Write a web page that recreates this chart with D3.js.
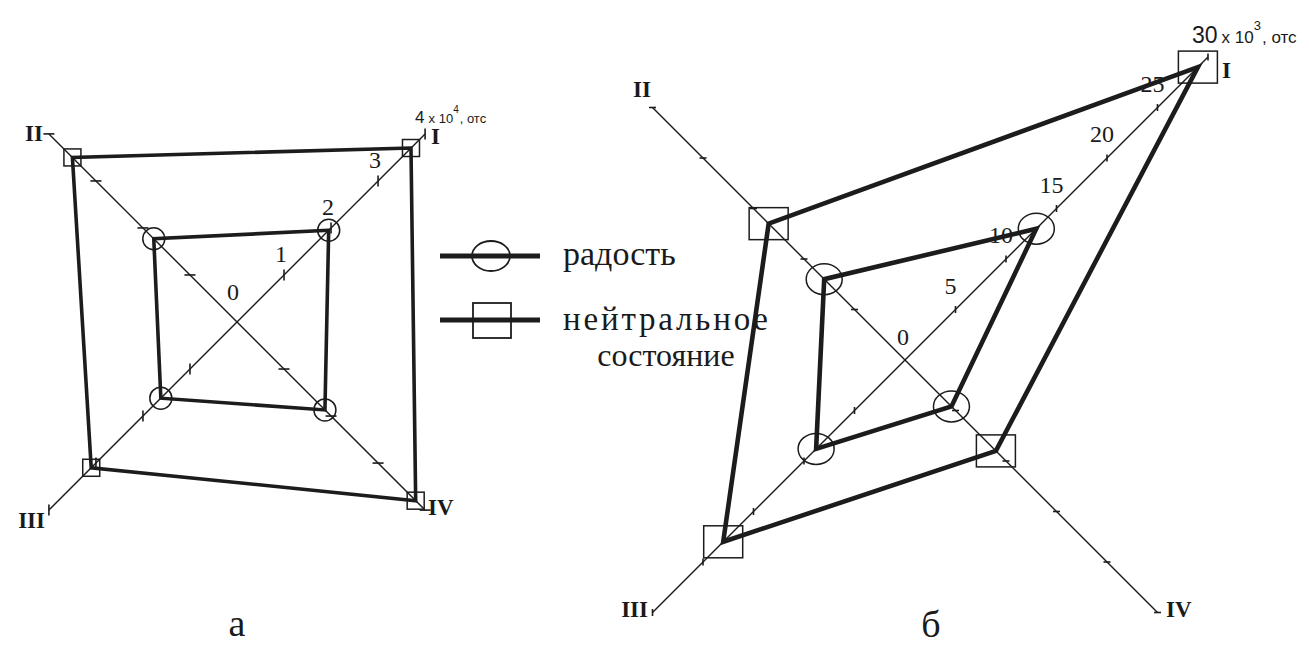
<!DOCTYPE html>
<html>
<head>
<meta charset="utf-8">
<script src="https://cdn.jsdelivr.net/npm/d3@7"></script>
<style>
  body { margin: 0; background: #fff; }
  text { fill: #1a1a1a; }
</style>
</head>
<body>
<svg id="chart" width="1309" height="652"></svg>
<script>
// Axis names (same for both diagrams)
const axisNames = ["I", "II", "III", "IV"];

// Diagram "а": values in units of 10^4 counts
const joyA = [1.95, 1.77, 1.62, 1.87];
const neutralA = [3.7, 3.5, 3.1, 3.8];
const ticksA = [0, 1, 2, 3, 4];
const axisMaxA = [4, 4, 4, 4];

// Diagram "б": values in units of 10^3 counts
const joyB = [13, 8, 8.8, 4.6];
const neutralB = [29, 13.5, 18, 9];
const ticksB = [0, 5, 10, 15, 20, 25, 30];
const axisMaxB = [30, 25, 25, 25];

// Legend entries
const seriesNames = ["радость", "нейтральное состояние"];
const panelNames = ["а", "б"];

const svg = d3.select("#chart");
const ink = "#1c1c1c";

// Axis directions, clockwise from "up": I upper-right, II upper-left, III lower-left, IV lower-right
const axisAngles = [45, 315, 225, 135].map(d => d * Math.PI / 180);
const pt = (a, r) => [r * Math.sin(a), -r * Math.cos(a)];

function drawPanel(cfg) {
  const g = svg.append("g").attr("transform", `translate(${cfg.cx},${cfg.cy})`);
  const r = d3.scaleLinear().domain([0, cfg.unitMax]).range([0, cfg.radius]);

  // axes
  axisNames.forEach((name, i) => {
    const a = axisAngles[i];
    const end = pt(a, r(cfg.axisMax[i]));
    g.append("line")
      .attr("x1", 0).attr("y1", 0).attr("x2", end[0]).attr("y2", end[1])
      .attr("stroke", ink).attr("stroke-width", 1.4);
    // tick marks: vertical on I/III, horizontal on II/IV
    const vertical = (i === 0 || i === 2);
    const tv = cfg.ticks.filter(t => t > 0 && t <= cfg.axisMax[i]);
    g.selectAll(null).data(tv).join("line")
      .attr("x1", t => pt(a, r(t))[0] - (vertical ? 0 : cfg.tickLen / 2))
      .attr("x2", t => pt(a, r(t))[0] + (vertical ? 0 : cfg.tickLen / 2))
      .attr("y1", t => pt(a, r(t))[1] - (vertical ? cfg.tickLen / 2 : 0))
      .attr("y2", t => pt(a, r(t))[1] + (vertical ? cfg.tickLen / 2 : 0))
      .attr("stroke", ink).attr("stroke-width", 1.6);
  });

  // tick labels along axis I (last one carries the unit)
  const lastTick = cfg.ticks[cfg.ticks.length - 1];
  g.selectAll(null).data(cfg.ticks.filter(t => t !== lastTick)).join("text")
    .attr("x", t => pt(axisAngles[0], r(t))[0] + (t === 0 ? cfg.zeroOff[0] : cfg.labelOff[0]))
    .attr("y", t => pt(axisAngles[0], r(t))[1] + (t === 0 ? cfg.zeroOff[1] : cfg.labelOff[1]))
    .attr("text-anchor", "middle")
    .attr("font-family", "Liberation Serif, serif")
    .attr("font-size", 24)
    .text(d => d);

  const endPt = pt(axisAngles[0], r(lastTick));
  const unit = g.append("text")
    .attr("x", endPt[0] + cfg.unitOff[0]).attr("y", endPt[1] + cfg.unitOff[1])
    .attr("font-family", "Liberation Sans, Arial, sans-serif");
  unit.append("tspan").attr("font-size", cfg.unitFont[0]).text(lastTick);
  unit.append("tspan").attr("font-size", cfg.unitFont[1]).attr("dx", 4).text("x 10");
  unit.append("tspan").attr("font-size", cfg.unitFont[2]).attr("dy", -cfg.unitFont[1] * 0.75).text(cfg.exponent);
  unit.append("tspan").attr("font-size", cfg.unitFont[1]).attr("dx", 1)
    .attr("dy", cfg.unitFont[1] * 0.75).text(", отс");

  // data polygons
  const radial = d3.lineRadial()
    .angle((d, i) => axisAngles[i])
    .radius(d => r(d))
    .curve(d3.curveLinearClosed);
  [cfg.neutral, cfg.joy].forEach(vals => {
    g.append("path").attr("d", radial(vals))
      .attr("fill", "none").attr("stroke", ink)
      .attr("stroke-width", cfg.lineW).attr("stroke-linejoin", "miter");
  });

  // markers
  g.selectAll(null).data(cfg.joy).join("ellipse")
    .attr("cx", (d, i) => pt(axisAngles[i], r(d))[0])
    .attr("cy", (d, i) => pt(axisAngles[i], r(d))[1])
    .attr("rx", cfg.circle[0]).attr("ry", cfg.circle[1])
    .attr("fill", "none").attr("stroke", ink).attr("stroke-width", 1.5);
  g.selectAll(null).data(cfg.neutral).join("rect")
    .attr("x", (d, i) => pt(axisAngles[i], r(d))[0] - cfg.square[0] / 2)
    .attr("y", (d, i) => pt(axisAngles[i], r(d))[1] - cfg.square[1] / 2)
    .attr("width", cfg.square[0]).attr("height", cfg.square[1])
    .attr("fill", "none").attr("stroke", ink).attr("stroke-width", 1.5);

  // axis names
  axisNames.forEach((name, i) => {
    const p = cfg.namePos[i];
    svg.append("text")
      .attr("x", p[0]).attr("y", p[1]).attr("text-anchor", p[2])
      .attr("font-family", "Liberation Serif, serif")
      .attr("font-weight", "bold").attr("font-size", 23)
      .text(name);
  });

  // panel caption
  svg.append("text")
    .attr("x", cfg.caption[0]).attr("y", cfg.caption[1])
    .attr("text-anchor", "middle")
    .attr("font-family", "Liberation Serif, serif").attr("font-size", 38)
    .text(cfg.captionText);
}

drawPanel({
  cx: 237, cy: 322, unitMax: 4, radius: 266,
  joy: joyA, neutral: neutralA, ticks: ticksA, axisMax: axisMaxA,
  tickLen: 11, lineW: 3.6, circle: [11, 11], square: [17, 17],
  labelOff: [-3, -13], zeroOff: [-4, -22],
  unitOff: [-10, -11], unitFont: [17, 13, 10], exponent: "4",
  namePos: [[431, 144, "start"], [43, 141, "end"], [45, 528, "end"], [428, 515, "start"]],
  caption: [237, 636], captionText: panelNames[0]
});

drawPanel({
  cx: 905, cy: 360, unitMax: 30, radius: 428.5,
  joy: joyB, neutral: neutralB, ticks: ticksB, axisMax: axisMaxB,
  tickLen: 7, lineW: 4.6, circle: [18, 15.5], square: [39, 32],
  labelOff: [-5, -16], zeroOff: [-2, -15],
  unitOff: [-16, -14], unitFont: [23, 17, 13], exponent: "3",
  namePos: [[1222, 78, "start"], [642, 97, "middle"], [648, 617, "end"], [1166, 617, "start"]],
  caption: [931, 637], captionText: panelNames[1]
});

// legend
const legend = svg.append("g");
const legendRows = [256, 320];
legendRows.forEach((y, i) => {
  legend.append("line").attr("x1", 440).attr("x2", 540).attr("y1", y).attr("y2", y)
    .attr("stroke", ink).attr("stroke-width", 5);
});
legend.append("ellipse").attr("cx", 491).attr("cy", legendRows[0]).attr("rx", 19).attr("ry", 15)
  .attr("fill", "none").attr("stroke", ink).attr("stroke-width", 1.8);
legend.append("rect").attr("x", 473).attr("y", legendRows[1] - 17).attr("width", 38).attr("height", 35)
  .attr("fill", "none").attr("stroke", ink).attr("stroke-width", 1.8);
legend.append("text").attr("x", 563).attr("y", 265)
  .attr("font-family", "Liberation Serif, serif").attr("font-size", 34)
  .text(seriesNames[0]);
const second = seriesNames[1].split(" ");
legend.append("text").attr("x", 563).attr("y", 330)
  .attr("font-family", "Liberation Serif, serif").attr("font-size", 33)
  .attr("textLength", 205).attr("lengthAdjust", "spacing")
  .text(second[0]);
legend.append("text").attr("x", 666).attr("y", 366).attr("text-anchor", "middle")
  .attr("font-family", "Liberation Serif, serif").attr("font-size", 32)
  .text(second[1]);
</script>
</body>
</html>
